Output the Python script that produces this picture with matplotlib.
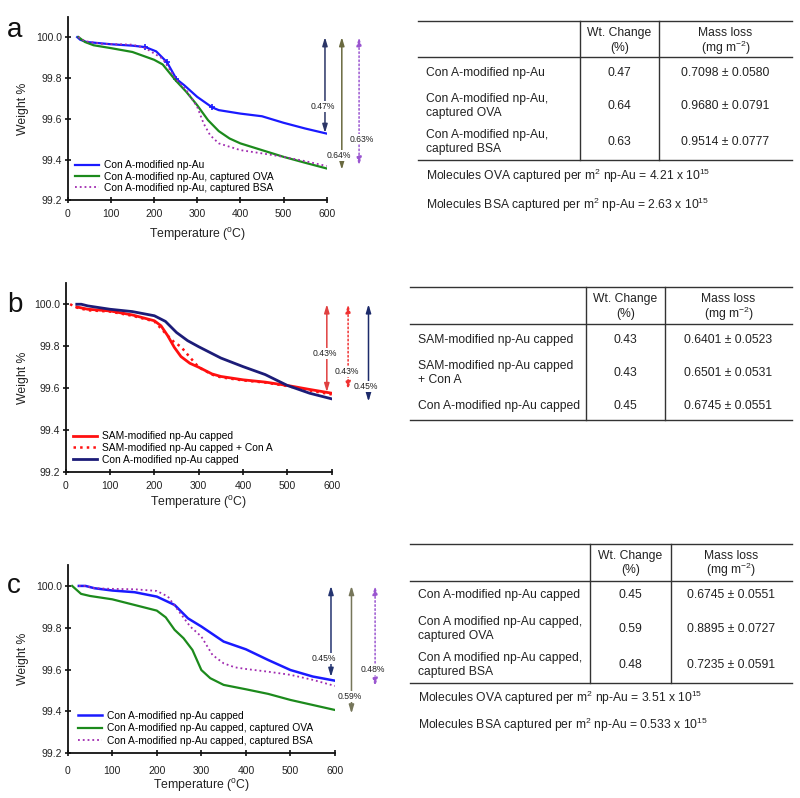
import matplotlib
matplotlib.use("Agg")
import matplotlib.pyplot as plt
from matplotlib.lines import Line2D

plt.rcParams['font.family'] = ['Liberation Sans', 'DejaVu Sans']
plt.rcParams['mathtext.default'] = 'regular'

W, H = 800, 798

# ---- panel a: Con A-modified np-Au, captured OVA / BSA
a_t_blue = [22, 29, 44, 100, 150, 180, 205, 230, 252, 270, 300, 335, 350, 400, 450, 500, 550, 600]
a_w_blue = [100.0, 99.987, 99.976, 99.965, 99.958, 99.951, 99.93, 99.877, 99.794, 99.764, 99.707, 99.655,
            99.642, 99.625, 99.612, 99.58, 99.552, 99.527]
a_mark_t = [180, 229, 252, 335]
a_mark_w = [99.951, 99.879, 99.794, 99.655]
a_t_green = [25, 40, 60, 100, 150, 200, 220, 250, 275, 300, 325, 350, 375, 400, 450, 500, 550, 600]
a_w_green = [100.0, 99.976, 99.96, 99.946, 99.927, 99.889, 99.866, 99.788, 99.731, 99.666, 99.593, 99.539,
             99.503, 99.479, 99.446, 99.413, 99.384, 99.356]
a_t_purple = [25, 40, 80, 150, 180, 220, 250, 275, 300, 315, 330, 350, 400, 450, 500, 550, 600]
a_w_purple = [100.0, 99.98, 99.967, 99.963, 99.946, 99.894, 99.796, 99.739, 99.658, 99.576, 99.519, 99.479,
              99.446, 99.43, 99.413, 99.392, 99.368]

# ---- panel b: SAM / Con A capped
b_t_red = [25, 50, 100, 150, 200, 215, 230, 245, 260, 280, 300, 330, 350, 400, 450, 500, 550, 600]
b_w_red = [99.987, 99.976, 99.968, 99.949, 99.921, 99.897, 99.85, 99.794, 99.75, 99.718, 99.699, 99.667,
           99.655, 99.639, 99.628, 99.612, 99.593, 99.575]
b_t_reddot = [10, 25, 50, 100, 150, 200, 230, 245, 260, 280, 300, 330, 350, 400, 450, 500, 550, 600]
b_w_reddot = [100.0, 99.984, 99.971, 99.965, 99.945, 99.918, 99.85, 99.818, 99.797, 99.747, 99.699, 99.664,
              99.651, 99.636, 99.626, 99.609, 99.588, 99.569]
b_t_navy = [25, 35, 50, 100, 150, 200, 225, 250, 275, 300, 350, 400, 450, 500, 550, 600]
b_w_navy = [100.0, 100.0, 99.992, 99.976, 99.965, 99.945, 99.918, 99.865, 99.826, 99.797, 99.743, 99.702,
            99.664, 99.612, 99.575, 99.548]

# ---- panel c: Con A capped, captured OVA / BSA
c_t_blue = [25, 40, 60, 100, 150, 200, 240, 270, 300, 350, 400, 450, 500, 550, 600]
c_w_blue = [100.0, 100.0, 99.989, 99.978, 99.97, 99.949, 99.909, 99.845, 99.806, 99.734, 99.697, 99.646,
            99.598, 99.567, 99.547]
c_t_green = [10, 20, 30, 50, 100, 150, 200, 220, 240, 260, 280, 300, 320, 350, 400, 450, 500, 550, 600]
c_w_green = [100.0, 99.981, 99.962, 99.952, 99.936, 99.909, 99.882, 99.85, 99.79, 99.75, 99.694, 99.598,
             99.559, 99.527, 99.506, 99.484, 99.455, 99.431, 99.407]
c_t_purple = [25, 40, 60, 100, 150, 200, 225, 250, 275, 300, 325, 350, 375, 400, 450, 500, 550, 600]
c_w_purple = [100.0, 100.0, 99.989, 99.986, 99.984, 99.976, 99.949, 99.877, 99.806, 99.758, 99.67, 99.63,
              99.611, 99.603, 99.59, 99.575, 99.551, 99.522]

# arrows: (x, top, bottom, label, label x, label y)
a_arrows = [(596, 100.0, 99.53, "0.47%", 590, 99.66),
            (635, 100.0, 99.35, "0.64%", 628, 99.42),
            (675, 100.0, 99.37, "0.63%", 682, 99.50)]
b_arrows = [(589, 100.0, 99.58, "0.43%", 585, 99.765),
            (637, 100.0, 99.59, "0.43%", 633, 99.68),
            (683, 100.0, 99.535, "0.45%", 677, 99.607)]
c_arrows = [(591, 100.0, 99.565, "0.45%", 574, 99.654),
            (637, 100.0, 99.39, "0.59%", 632, 99.47),
            (690, 100.0, 99.518, "0.48%", 685, 99.60)]

# tables
a_rows = ["Con A-modified np-Au", "Con A-modified np-Au,\ncaptured OVA", "Con A-modified np-Au,\ncaptured BSA"]
a_wt = ["0.47", "0.64", "0.63"]
a_mass = ["0.7098 ± 0.0580", "0.9680 ± 0.0791", "0.9514 ± 0.0777"]
a_notes = ["Molecules OVA captured per m$^2$ np-Au = 4.21 x 10$^{15}$",
           "Molecules BSA captured per m$^2$ np-Au = 2.63 x 10$^{15}$"]
b_rows = ["SAM-modified np-Au capped", "SAM-modified np-Au capped\n+ Con A", "Con A-modified np-Au capped"]
b_wt = ["0.43", "0.43", "0.45"]
b_mass = ["0.6401 ± 0.0523", "0.6501 ± 0.0531", "0.6745 ± 0.0551"]
c_rows = ["Con A-modified np-Au capped", "Con A modified np-Au capped,\ncaptured OVA",
          "Con A modified np-Au capped,\ncaptured BSA"]
c_wt = ["0.45", "0.59", "0.48"]
c_mass = ["0.6745 ± 0.0551", "0.8895 ± 0.0727", "0.7235 ± 0.0591"]
c_notes = ["Molecules OVA captured per m$^2$ np-Au = 3.51 x 10$^{15}$",
           "Molecules BSA captured per m$^2$ np-Au = 0.533 x 10$^{15}$"]

BLUE = "#1a1aff"
GREEN = "#1c8a1c"
PURPLE = "#a02ab0"
RED = "#ff1010"
NAVY = "#1c1c78"
TXT = "#222222"

fig = plt.figure(figsize=(8, 7.98), dpi=100)


def fx(x):
    return x / W


def fy(y):
    return 1 - y / H


def make_axes(x0, x1, ytop, ybot, tickpad, xlab_y):
    ax = fig.add_axes([fx(x0), fy(ybot), (x1 - x0) / W, (ybot - ytop) / H])
    ax.set_xlim(0, 600)
    ax.set_ylim(99.2, 100.1)
    ax.set_xticks(range(0, 601, 100))
    ax.set_yticks([99.2, 99.4, 99.6, 99.8, 100.0])
    ax.set_yticklabels(["99.2", "99.4", "99.6", "99.8", "100.0"])
    for s in ["top", "right"]:
        ax.spines[s].set_visible(False)
    for s in ["left", "bottom"]:
        ax.spines[s].set_linewidth(1.3)
        ax.spines[s].set_color("#111111")
    ax.tick_params(direction="inout", length=4, width=1.2, labelsize=7.5, labelcolor=TXT, color="#111111")
    ax.tick_params(axis="x", pad=tickpad)
    ax.tick_params(axis="y", pad=2)
    ax.set_xlabel("Temperature ($^{o}$C)", fontsize=8.8, color=TXT, va="center")
    ax.xaxis.set_label_coords(0.5, -(xlab_y - ybot) / (ybot - ytop))
    ax.set_ylabel("Weight %", fontsize=8.8, color=TXT, va="center")
    ax.yaxis.set_label_coords(-(x0 - 23) / (x1 - x0), 0.5)
    return ax


def draw_arrows(ax, arrows, colors, styles):
    for (x, top, bot, lab, lx, ly), c, ls in zip(arrows, colors, styles):
        ax.annotate("", xy=(x, bot), xytext=(x, top), annotation_clip=False,
                    arrowprops=dict(arrowstyle="<|-|>,head_length=0.5,head_width=0.15", color=c, lw=1.1,
                                    linestyle=ls, shrinkA=0, shrinkB=0, mutation_scale=10))
        ax.text(lx, ly, lab, fontsize=6.2, color=TXT, ha="center", va="center", clip_on=False, zorder=6,
                bbox=dict(fc="white", ec="none", pad=0.6))


def draw_table(x0, x1, vx1, vx2, top, head_line, bottom, head_y, rows, row_y, wt, mass, notes, note_y):
    for y in [top, head_line, bottom]:
        fig.add_artist(Line2D([fx(x0), fx(x1)], [fy(y), fy(y)], color="#333333", lw=1.0))
    for x in [vx1, vx2]:
        fig.add_artist(Line2D([fx(x), fx(x)], [fy(top), fy(bottom)], color="#333333", lw=1.0))
    cw = (vx1 + vx2) / 2
    cm = (vx2 + x1) / 2
    fig.text(fx(cw), fy(head_y[0]), "Wt. Change", fontsize=8.7, color=TXT, ha="center", va="center")
    fig.text(fx(cw), fy(head_y[1]), "(%)", fontsize=8.7, color=TXT, ha="center", va="center")
    fig.text(fx(cm), fy(head_y[0]), "Mass loss", fontsize=8.7, color=TXT, ha="center", va="center")
    fig.text(fx(cm), fy(head_y[1]), "(mg m$^{-2}$)", fontsize=8.7, color=TXT, ha="center", va="center")
    for r, y, w, m in zip(rows, row_y, wt, mass):
        fig.text(fx(x0 + 8), fy(y), r, fontsize=8.7, color=TXT, ha="left", va="center", linespacing=1.15)
        fig.text(fx(cw), fy(y), w, fontsize=8.7, color=TXT, ha="center", va="center")
        fig.text(fx(cm), fy(y), m, fontsize=8.7, color=TXT, ha="center", va="center")
    for n, y in zip(notes, note_y):
        fig.text(fx(x0 + 8), fy(y), n, fontsize=8.7, color=TXT, ha="left", va="center")


# panel a
ax = make_axes(67.7, 326.7, 16.7, 200.3, 4, 235)
ax.plot(a_t_blue, a_w_blue, color=BLUE, lw=1.6, label="Con A-modified np-Au")
ax.plot(a_mark_t, a_mark_w, ls="none", marker="+", ms=5, mew=1.2, color=BLUE)
ax.plot(a_t_green, a_w_green, color=GREEN, lw=1.6, label="Con A-modified np-Au, captured OVA")
ax.plot(a_t_purple, a_w_purple, color=PURPLE, lw=1.3, ls=":", label="Con A-modified np-Au, captured BSA")
h, l = ax.get_legend_handles_labels()
ax.legend([h[0], h[1], h[2]], [l[0], l[1], l[2]], loc="lower left", bbox_to_anchor=(0.028, 0.04),
          frameon=False, fontsize=7.4, handlelength=2.3, handletextpad=0.5, labelspacing=0.12,
          borderpad=0, borderaxespad=0)
draw_arrows(ax, a_arrows, ["#2b3566", "#6a6a40", "#9a55d0"], ["-", "-", ":"])
fig.text(fx(7), fy(37), "a", fontsize=20, color="#111111", ha="left", va="baseline")

# panel b
ax = make_axes(65.7, 331.7, 283.3, 471.7, 5, 502.7)
ax.plot(b_t_red, b_w_red, color=RED, lw=2.0, label="SAM-modified np-Au capped")
ax.plot(b_t_reddot, b_w_reddot, color=RED, lw=1.8, ls=":", label="SAM-modified np-Au capped + Con A")
ax.plot(b_t_navy, b_w_navy, color=NAVY, lw=2.0, label="Con A-modified np-Au capped")
ax.legend(loc="lower left", bbox_to_anchor=(0.027, 0.036), frameon=False, fontsize=7.4, handlelength=2.3,
          handletextpad=0.5, labelspacing=0.18, borderpad=0, borderaxespad=0)
draw_arrows(ax, b_arrows, ["#e04040", "#f03030", "#1c2a6a"], ["-", ":", "-"])
fig.text(fx(7), fy(312), "b", fontsize=20, color="#111111", ha="left", va="baseline")

# panel c
ax = make_axes(67.7, 335, 565, 753.3, 7, 785)
ax.plot(c_t_blue, c_w_blue, color=BLUE, lw=1.8, label="Con A-modified np-Au capped")
ax.plot(c_t_green, c_w_green, color=GREEN, lw=1.6, label="Con A-modified np-Au capped, captured OVA")
ax.plot(c_t_purple, c_w_purple, color=PURPLE, lw=1.3, ls=":", label="Con A-modified np-Au capped, captured BSA")
ax.legend(loc="lower left", bbox_to_anchor=(0.039, 0.039), frameon=False, fontsize=7.4, handlelength=2.3,
          handletextpad=0.5, labelspacing=0.25, borderpad=0, borderaxespad=0)
draw_arrows(ax, c_arrows, ["#243470", "#76765a", "#9a55d0"], ["-", "-", ":"])
fig.text(fx(7), fy(593), "c", fontsize=20, color="#111111", ha="left", va="baseline")

# tables
draw_table(418, 792, 580, 659, 21, 57, 160, (33, 48), a_rows, [72.7, 106, 142], a_wt, a_mass,
           a_notes, [176, 205])
draw_table(410, 792, 585.7, 665, 287.3, 324, 420, (299, 314), b_rows, [340, 373, 406], b_wt, b_mass,
           [], [])
draw_table(410, 792, 590, 670.7, 544, 580.7, 683.3, (556, 570), c_rows, [595, 629, 665], c_wt, c_mass,
           c_notes, [698, 725])

fig.savefig("out.png", dpi=100, facecolor="white")
